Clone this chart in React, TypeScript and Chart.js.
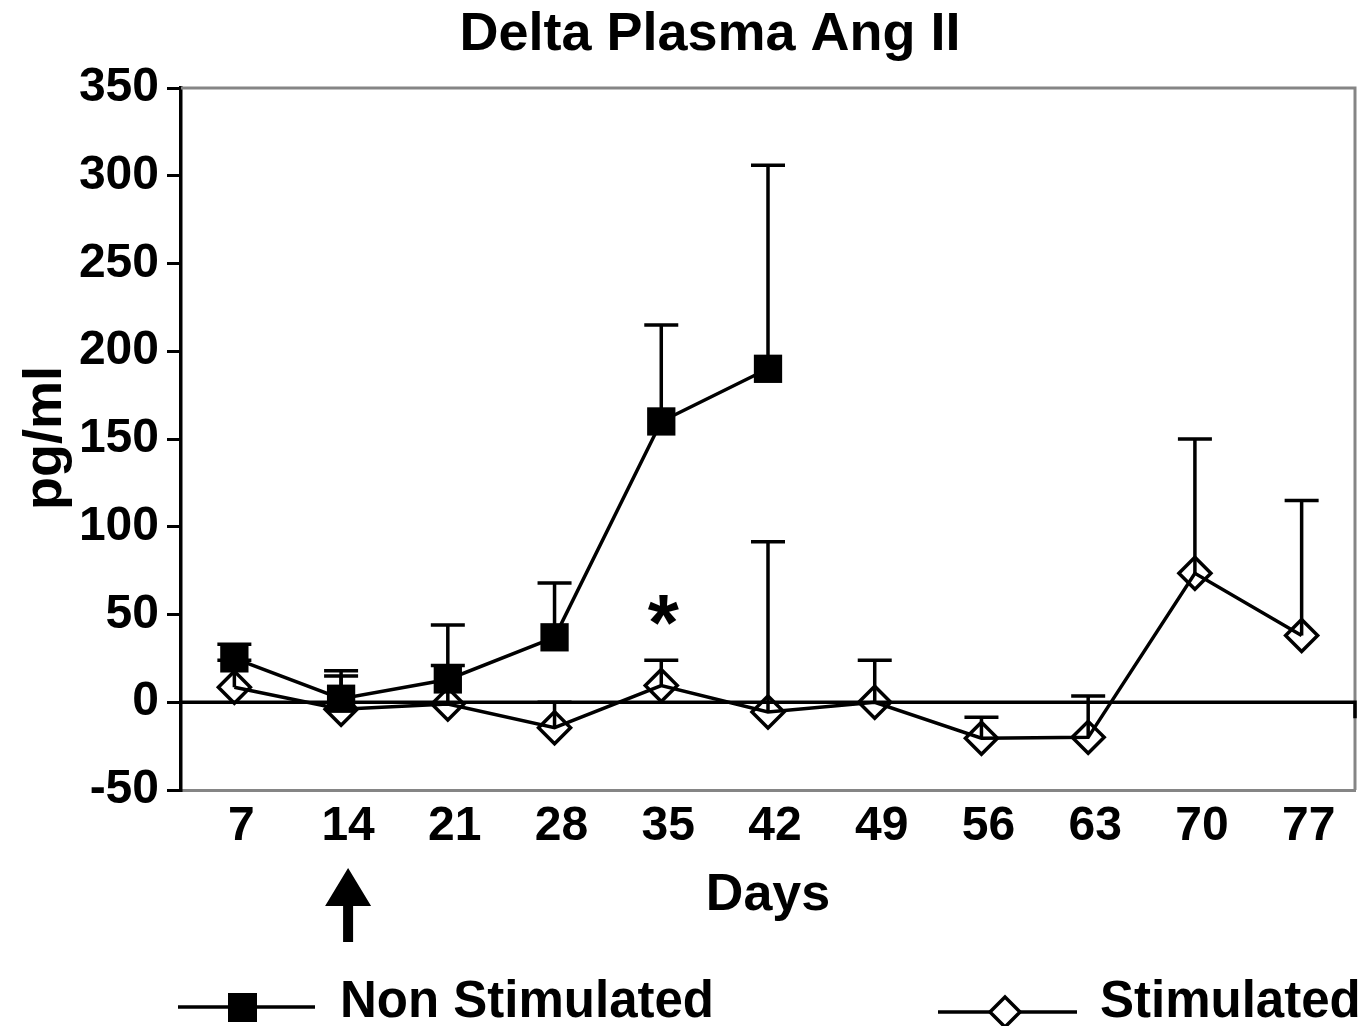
import { useEffect, useRef } from 'react';
import { Chart, registerables } from 'chart.js';

Chart.register(...registerables);

// Sampling days (x categories)
const days = ['7', '14', '21', '28', '35', '42', '49', '56', '63', '70', '77'];

// Mean change in plasma Ang II (pg/ml) and the top of each error bar (mean + SEM)
const nonStimulated = [25, 2, 13, 37, 160, 190, null, null, null, null, null];
const nonStimulatedUpper = [33, 18, 44, 68, 215, 306, null, null, null, null, null];
const stimulated = [8.5, -4, -1, -14.5, 9.5, -5.5, 0, -20.5, -20, 73.5, 38];
const stimulatedUpper = [24, 15, 21, 0, 24, 91.5, 24, -8.5, 3.5, 150, 115];

// Y axis range and step
const yMin = -50;
const yMax = 350;
const yStep = 50;

// Annotations
const chartTitle = 'Delta Plasma Ang II';
const xTitle = 'Days';
const yTitle = 'pg/ml';
const legendNonStim = 'Non Stimulated';
const legendStim = 'Stimulated';
const arrowDayIndex = 1; // day 14
const starDayIndex = 4; // day 35
const starValue = 56;

const FONT = "'Liberation Sans', Arial, Helvetica, sans-serif";
const LABEL_SHIFT = 7;
const LW = 3.5;

function drawDiamond(ctx: CanvasRenderingContext2D, cx: number, cy: number, r: number) {
  ctx.beginPath();
  ctx.moveTo(cx - r, cy);
  ctx.lineTo(cx, cy - r);
  ctx.lineTo(cx + r, cy);
  ctx.lineTo(cx, cy + r);
  ctx.closePath();
  ctx.stroke();
}

const decorations = {
  id: 'decorations',
  beforeDatasetsDraw(chart: any) {
    const { ctx, chartArea: a, scales } = chart;
    const x = scales.x;
    const y = scales.y;
    ctx.save();
    // grey frame on top and right
    ctx.strokeStyle = '#858585';
    ctx.lineWidth = 3;
    ctx.beginPath();
    ctx.moveTo(a.left, a.top);
    ctx.lineTo(a.right, a.top);
    ctx.lineTo(a.right, a.bottom);
    ctx.stroke();

    // zero reference line with a short tick at the right end
    ctx.strokeStyle = '#000';
    ctx.lineWidth = LW;
    const y0 = y.getPixelForValue(0);
    ctx.beginPath();
    ctx.moveTo(a.left, y0);
    ctx.lineTo(a.right, y0);
    ctx.lineTo(a.right, y0 + 16);
    ctx.stroke();

    // error bars (upper only)
    const drawErr = (vals: (number | null)[], ups: (number | null)[]) => {
      vals.forEach((v, i) => {
        const u = ups[i];
        if (v == null || u == null) return;
        const px = x.getPixelForValue(i);
        const py = y.getPixelForValue(v);
        const pu = y.getPixelForValue(u);
        ctx.beginPath();
        ctx.moveTo(px, py);
        ctx.lineTo(px, pu);
        ctx.moveTo(px - 17, pu);
        ctx.lineTo(px + 17, pu);
        ctx.stroke();
      });
    };
    ctx.lineWidth = LW;
    drawErr(stimulated, stimulatedUpper);
    drawErr(nonStimulated, nonStimulatedUpper);
    ctx.restore();
  },
  afterDraw(chart: any) {
    const { ctx, chartArea: a, scales } = chart;
    const x = scales.x;
    const y = scales.y;
    ctx.save();
    ctx.fillStyle = '#000';
    ctx.strokeStyle = '#000';

    // title
    ctx.font = `bold 54px ${FONT}`;
    ctx.textAlign = 'center';
    ctx.textBaseline = 'middle';
    ctx.fillText(chartTitle, 710, 35);

    // x axis title
    ctx.font = `bold 52px ${FONT}`;
    ctx.fillText(xTitle, (a.left + a.right) / 2, 896);

    // y axis title
    ctx.save();
    ctx.translate(46, 438);
    ctx.rotate(-Math.PI / 2);
    ctx.font = `bold 54px ${FONT}`;
    ctx.fillText(yTitle, 0, 0);
    ctx.restore();

    // significance star
    const starSize = 80;
    ctx.font = `bold ${starSize}px ${FONT}`;
    ctx.textBaseline = 'alphabetic';
    ctx.fillText('*', x.getPixelForValue(starDayIndex) + 2, y.getPixelForValue(starValue) + starSize * 0.57);

    // arrow under day 14
    const ax = x.getPixelForValue(arrowDayIndex) + LABEL_SHIFT;
    ctx.beginPath();
    ctx.moveTo(ax, 868);
    ctx.lineTo(ax + 23, 906);
    ctx.lineTo(ax + 5, 906);
    ctx.lineTo(ax + 5, 942);
    ctx.lineTo(ax - 5, 942);
    ctx.lineTo(ax - 5, 906);
    ctx.lineTo(ax - 23, 906);
    ctx.closePath();
    ctx.fill();

    // legend
    ctx.lineWidth = LW;
    ctx.beginPath();
    ctx.moveTo(178, 1007);
    ctx.lineTo(315, 1007);
    ctx.stroke();
    ctx.fillRect(228, 993, 29, 29);
    ctx.beginPath();
    ctx.moveTo(938, 1012);
    ctx.lineTo(1077, 1012);
    ctx.stroke();
    ctx.fillStyle = '#fff';
    ctx.beginPath();
    ctx.moveTo(990, 1012);
    ctx.lineTo(1005, 997);
    ctx.lineTo(1020, 1012);
    ctx.lineTo(1005, 1027);
    ctx.closePath();
    ctx.fill();
    drawDiamond(ctx, 1005, 1012, 15);
    ctx.fillStyle = '#000';
    ctx.font = `bold 51px ${FONT}`;
    ctx.textAlign = 'left';
    ctx.textBaseline = 'alphabetic';
    ctx.fillText(legendNonStim, 340, 1017);
    ctx.fillText(legendStim, 1100, 1017);
    ctx.restore();
  },
};

export default function App() {
  const canvasRef = useRef<HTMLCanvasElement | null>(null);

  useEffect(() => {
    const canvas = canvasRef.current;
    if (!canvas) return;
    const chart = new Chart(canvas, {
      type: 'line',
      data: {
        labels: days,
        datasets: [
          {
            label: legendNonStim,
            data: nonStimulated,
            borderColor: '#000',
            borderWidth: LW,
            backgroundColor: '#000',
            pointStyle: 'rect',
            pointRadius: 20,
            pointBorderWidth: 0,
            pointBackgroundColor: '#000',
            spanGaps: false,
          },
          {
            label: legendStim,
            data: stimulated,
            borderColor: '#000',
            borderWidth: LW,
            backgroundColor: 'rgba(0,0,0,0)',
            pointStyle: 'rectRot',
            pointRadius: 16,
            pointBorderWidth: 3.5,
            pointBorderColor: '#000',
            pointBackgroundColor: 'rgba(0,0,0,0)',
          },
        ],
      },
      options: {
        animation: false,
        responsive: true,
        maintainAspectRatio: false,
        layout: { autoPadding: false, padding: { left: 0, top: 88, right: 10, bottom: 0 } },
        plugins: {
          legend: { display: false },
          title: { display: false },
          tooltip: { enabled: false },
        },
        scales: {
          x: {
            type: 'category',
            offset: true,
            grid: { display: false, drawTicks: false },
            border: { display: true, color: '#858585', width: 3 },
            ticks: {
              color: '#000',
              font: { family: FONT, size: 48, weight: 'bold' },
              padding: 8,
              labelOffset: LABEL_SHIFT,
              maxRotation: 0,
              autoSkip: false,
            },
            afterFit(scale: any) {
              scale.height = 236;
            },
          },
          y: {
            min: yMin,
            max: yMax,
            grid: {
              display: true,
              drawOnChartArea: false,
              drawTicks: true,
              tickLength: 14,
              color: '#000',
              lineWidth: 3,
            },
            border: { display: true, color: '#000', width: 3.5 },
            ticks: {
              stepSize: yStep,
              color: '#000',
              font: { family: FONT, size: 48, weight: 'bold' },
              padding: 8,
            },
            afterFit(scale: any) {
              scale.width = 181;
            },
          },
        },
      },
      plugins: [decorations],
    });
    return () => chart.destroy();
  }, []);

  return (
    <div style={{ position: 'fixed', left: 0, top: 0, width: 1365, height: 1026, background: '#fff' }}>
      <canvas ref={canvasRef} />
    </div>
  );
}
